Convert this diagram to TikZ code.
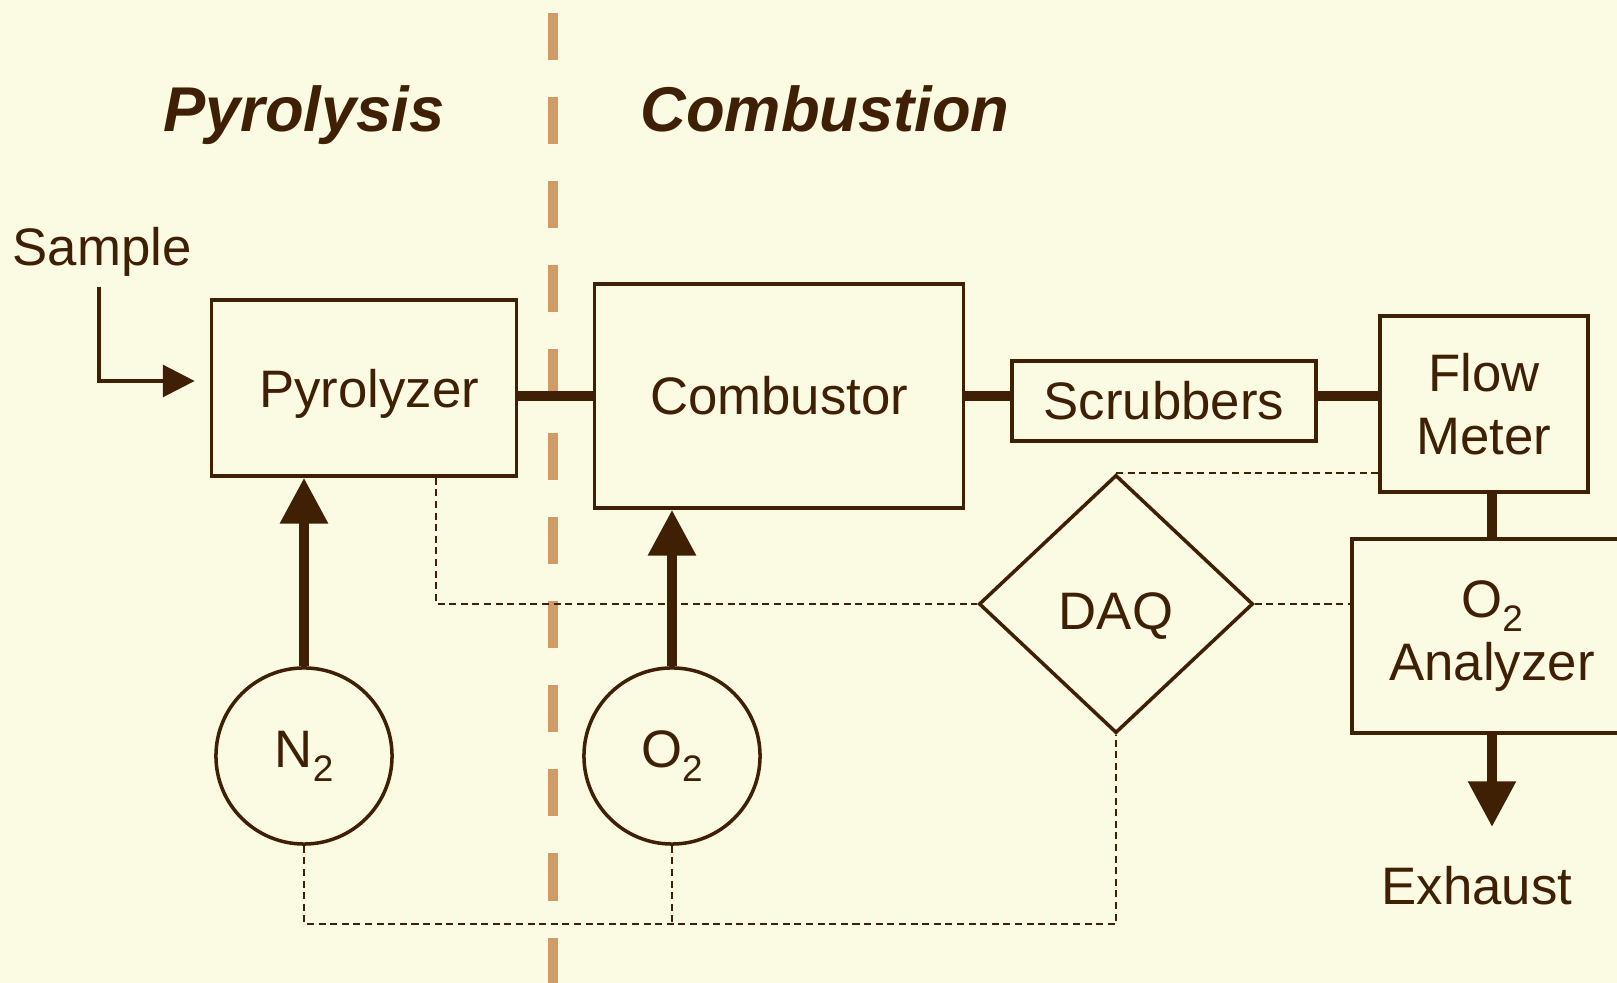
\documentclass[tikz,border=0pt]{standalone}
\usepackage{fontspec}
\setmainfont{Liberation Sans}
\usetikzlibrary{arrows.meta, shapes.geometric}

\definecolor{paper}{RGB}{251,250,227}
\definecolor{ink}{RGB}{64,32,5}
\definecolor{divider}{RGB}{208,155,102}

% low, fairly large subscript for the gas formulas
\newcommand{\gasindex}[1]{\raisebox{-4pt}{\fontsize{10.5}{12}\selectfont #1}}

\begin{document}
\begin{tikzpicture}[x=0.01cm, y=-0.01cm,
    every node/.style={text=ink, font=\fontsize{15}{18}\selectfont},
    title/.style={anchor=base, font=\fontsize{18}{22}\selectfont\bfseries\itshape},
    unit/.style={draw=ink, line width=1pt, align=center, inner sep=0pt},
    tank/.style={draw=ink, line width=1pt, circle, minimum size=1.76cm, inner sep=0pt},
    pipe/.style={draw=ink, line width=3pt},
    feed/.style={draw=ink, line width=2.8pt, -{Triangle[length=13pt, width=13pt]}},
    signal/.style={draw=ink, line width=0.45pt, dash pattern=on 2pt off 1.3pt}]

      % Paper and frame
      \useasboundingbox (0,0) rectangle (1617,983);
      \fill[paper] (0,0) rectangle (1617,983);
      \clip (0,0) rectangle (1617,983);

      % Stage titles and the line between them
      \node[title] (pyrtitle) at (304,132) {Pyrolysis};
      \node[title] (combtitle) at (825,132) {Combustion};
      \draw[divider, line width=0.1cm, dash pattern=on 0.47cm off 0.37cm] (553,13) -- (553,983);

      % Process units
      \node[unit, text depth=0pt, minimum width=3.05cm, minimum height=1.76cm] (pyro) at (364,388) {\hspace{0.1cm}Pyrolyzer};
      \node[unit, minimum width=3.69cm, minimum height=2.24cm] (comb) at (779,396) {Combustor};
      \node[unit, minimum width=3.04cm, minimum height=0.80cm] (scrub) at (1164,401) {Scrubbers};
      \node[unit, minimum width=2.08cm, minimum height=1.76cm] (flow) at (1484,404) {Flow\\Meter};
      \node[unit, minimum width=2.80cm, minimum height=1.94cm] (ana) at (1492,636) {O\gasindex{2}\\Analyzer};
      \node[unit, diamond, text height=17.5pt, minimum width=2.74cm, minimum height=2.58cm] (daq) at (1116,604) {DAQ};

      % Gas supplies
      \node[tank] (n2) at (304,756) {N\gasindex{2}};
      \node[tank] (o2) at (672,756) {O\gasindex{2}};

      % In and out
      \node (sample) at (102,252) {Sample};
      \node (exhaust) at (1477,886) {Exhaust};
      \coordinate (samplein) at (99,287);
      \coordinate (exit) at (1492,827);

      % Gas path
      \draw[ink, line width=1pt, -{Triangle[length=9pt, width=9pt]}, shorten >=0.15cm]
        (samplein) |- ([yshift=0.07cm]pyro.west);
      \draw[pipe] (pyro.east |- comb) -- (comb.west);
      \draw[pipe] (comb.east) -- (comb.east -| scrub.west);
      \draw[pipe] (scrub.east |- comb.east) -- (flow.west |- comb.east);
      \draw[pipe] (flow.south -| ana.north) -- (ana.north);
      \draw[feed] (n2.north) -- (pyro.south -| n2.north);
      \draw[feed] (o2.north) -- (comb.south -| o2.north);
      \draw[feed] (ana.south) -- (exit);

      % Signal wiring to the DAQ
      \coordinate (bus) at (1116,924);
      \draw[signal] ([xshift=0.72cm]pyro.south) |- (daq.west);
      \draw[signal] (daq.east) -- (daq.east -| ana.west);
      \draw[signal] (daq.north) -- (daq.north -| flow.west);
      \draw[signal] (n2.south) |- (bus) -- (daq.south);
      \draw[signal] (o2.south) -- (o2.south |- bus);
\end{tikzpicture}
\end{document}
